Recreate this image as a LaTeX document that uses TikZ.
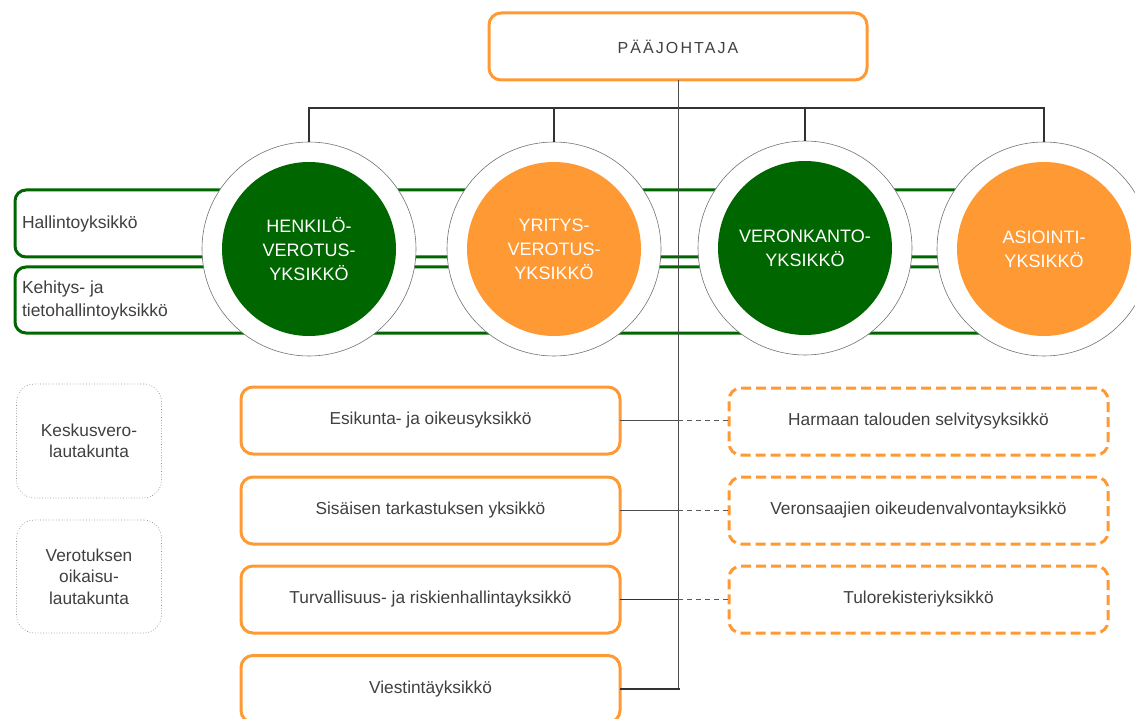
\documentclass[tikz,border=0pt]{standalone}
\usepackage{fontspec}
\setmainfont{Liberation Sans}
\definecolor{vgreen}{RGB}{0,102,0}
\definecolor{vorange}{RGB}{255,153,51}
\definecolor{txt}{RGB}{64,64,64}
\definecolor{linec}{RGB}{50,50,50}
\begin{document}
\begin{tikzpicture}[x=1pt,y=-1pt,
  every node/.style={inner sep=0pt, outer sep=0pt},
  lbl/.style={text=txt, font=\fontsize{17.3}{21.5}\selectfont, align=center},
  lbll/.style={text=txt, font=\fontsize{17.5}{23}\selectfont, align=left},
  greenbar/.style={draw=vgreen, line width=3pt, rounded corners=11pt, fill=white, minimum width=1025, minimum height=67},
  outerc/.style={circle, draw=black!55, line width=0.6pt, fill=white, minimum size=214},
  innerg/.style={circle, fill=vgreen, minimum size=174, text=white, font=\fontsize{18}{24}\selectfont, align=center},
  innero/.style={circle, fill=vorange, minimum size=174, text=white, font=\fontsize{18}{24}\selectfont, align=center},
  obox/.style={draw=vorange, line width=3pt, rounded corners=12pt, fill=white, minimum width=379, minimum height=67, lbl},
  odash/.style={obox, dash pattern=on 10pt off 5pt},
  gbox/.style={draw=black!45, line width=0.7pt, dotted, rounded corners=18pt, minimum width=145, minimum height=114, lbl},
  tree/.style={draw=linec, line width=1.6pt},
  trunk/.style={draw=black!70, line width=1pt},
  dlink/.style={draw=black!65, line width=1pt, dash pattern=on 5pt off 4pt}
]
\useasboundingbox (0,0) rectangle (1135,719);

% green bars
\node[greenbar] (hal) at (527.5,223.5) {};
\node[lbll, anchor=west] (halt) at ([xshift=7pt]hal.west) {Hallintoyksikkö};
\node[greenbar, minimum height=66] (keh) at (527.5,300) {};
\node[lbll, anchor=west] (keht) at ([xshift=7pt]keh.west) {Kehitys- ja\\tietohallintoyksikkö};

% boss
\node[obox, minimum width=378, font=\fontsize{16}{18}\selectfont\addfontfeatures{LetterSpace=13}] (boss) at (678,46.5) {PÄÄJOHTAJA};

% circles
\node[outerc] (c1) at (309,249) {};
\node[innerg] (i1) at (c1) {HENKILÖ-\\VEROTUS-\\YKSIKKÖ};
\node[outerc] (c2) at (554,249) {};
\node[innero] (i2) at (c2) {YRITYS-\\VEROTUS-\\YKSIKKÖ};
\node[outerc] (c3) at (805,248) {};
\node[innerg] (i3) at (c3) {VERONKANTO-\\YKSIKKÖ};
\node[outerc] (c4) at (1044,249) {};
\node[innero] (i4) at (c4) {ASIOINTI-\\YKSIKKÖ};

% tree
\coordinate (hb) at (678,108);
\coordinate (tend) at (678,688);
\draw[tree] (c1.north) -- (c1.north |- hb) -- (c4.north |- hb) -- (c4.north);
\draw[tree] (c2.north |- hb) -- (c2.north);
\draw[tree] (c3.north |- hb) -- (c3.north);
\draw[trunk] (boss.south) -- (tend);

% left boards
\node[gbox] (kv) at (89,441) {Keskusvero-\\lautakunta};
\node[gbox, minimum height=113] (vo) at (89,576.5) {Verotuksen\\oikaisu-\\lautakunta};

% units
\node[obox] (e1) at (430.5,420.5) {Esikunta- ja oikeusyksikkö};
\node[obox] (e2) at (430.5,510.5) {Sisäisen tarkastuksen yksikkö};
\node[obox] (e3) at (430.5,599.5) {Turvallisuus- ja riskienhallintayksikkö};
\node[obox] (e4) at (430.5,689) {Viestintäyksikkö};

\node[odash] (h1) at (918.5,421.5) {Harmaan talouden selvitysyksikkö};
\node[odash] (h2) at (918.5,510.5) {Veronsaajien oikeudenvalvontayksikkö};
\node[odash] (h3) at (918.5,599.5) {Tulorekisteriyksikkö};

\draw[trunk] (e1.east) -- (e1.east -| tend);
\draw[trunk] (e2.east) -- (e2.east -| tend);
\draw[tree, line width=1.3pt] (e3.east) -- (e3.east -| tend);
\draw[tree, line width=1.3pt] (e4.east) -- ([xshift=2pt]e4.east -| tend);
\draw[dlink] (e1.east -| tend) -- (h1.west |- e1.east);
\draw[dlink] (e2.east -| tend) -- (h2.west);
\draw[dlink] (e3.east -| tend) -- (h3.west);
\end{tikzpicture}
\end{document}
